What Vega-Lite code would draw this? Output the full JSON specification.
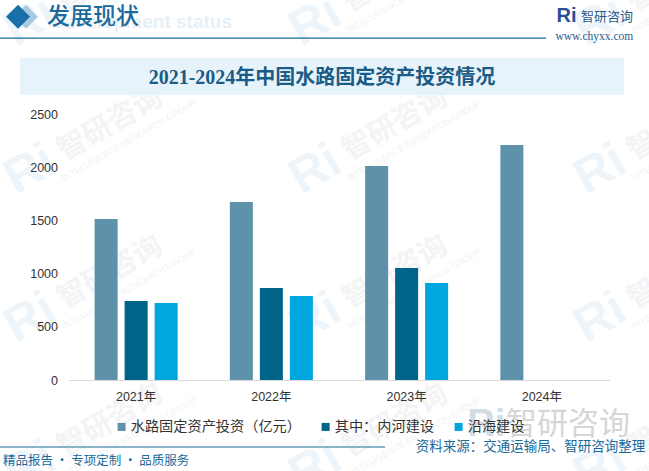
{
  "$schema": "https://vega.github.io/schema/vega-lite/v6.json",
  "width": 541,
  "height": 265.5,
  "autosize": "none",
  "padding": {"left": 68.5, "top": 114.5, "right": 39.5, "bottom": 91},
  "background": "#ffffff",
  "config": {"view": {"stroke": null}},
  "layer": [
    {
      "data": {
        "values": [
          {"col": "A", "row": "1"}, {"col": "B", "row": "1"}, {"col": "C", "row": "1"},
          {"col": "A", "row": "2"}, {"col": "B", "row": "2"}, {"col": "C", "row": "2"},
          {"col": "A", "row": "3"}, {"col": "B", "row": "3"}, {"col": "C", "row": "3"},
          {"col": "A", "row": "4"}, {"col": "B", "row": "4"}, {"col": "C", "row": "4"}
        ]
      },
      "encoding": {
        "x": {"field": "col", "type": "nominal", "axis": null, "scale": {"type": "point", "padding": 0, "domain": ["A", "B", "C"], "range": [41.5, 611.5]}},
        "y": {"field": "row", "type": "nominal", "axis": null, "scale": {"type": "point", "padding": 0, "domain": ["1", "2", "3", "4"], "range": [-139, 306]}}
      },
      "layer": [
        {"mark": {"type": "text", "text": "智研咨询", "font": "Noto Sans CJK SC", "fontSize": 29, "fontWeight": "bold", "angle": 330, "color": "#f3f4f6"}},
        {"mark": {"type": "text", "text": "INTELLIGENCE RESEARCH GROUP", "font": "Liberation Sans", "fontSize": 9, "angle": 330, "dy": 24, "dx": 8, "color": "#f1f3f5"}},
        {"mark": {"type": "text", "text": "Ri", "font": "Liberation Sans", "fontSize": 50, "fontWeight": "bold", "angle": 330, "dx": -92, "color": "#eef5fa"}}
      ]
    },
    {
      "data": {"values": [{}]},
      "layer": [
        {
          "mark": {"type": "rect", "color": "#e6f3fb"},
          "encoding": {
            "x": {"datum": -0.0896, "type": "quantitative", "axis": null, "scale": {"domain": [0, 1], "nice": false, "zero": false}},
            "x2": {"datum": 1.0268},
            "y": {"datum": 3032, "type": "quantitative", "axis": null, "scale": {"domain": [0, 2500], "nice": false}},
            "y2": {"datum": 2684}
          }
        },
        {
          "mark": {"type": "text", "text": "2021-2024年中国水路固定资产投资情况", "font": "Liberation Serif, Noto Sans CJK SC", "fontSize": 20, "fontWeight": "bold", "color": "#1b5c86", "align": "center", "baseline": "middle"},
          "encoding": {
            "x": {"datum": 0.4686, "type": "quantitative", "axis": null},
            "y": {"datum": 2843, "type": "quantitative", "axis": null}
          }
        },
        {
          "mark": {"type": "rule", "color": "#1a6a9a", "strokeWidth": 1.2},
          "encoding": {
            "x": {"datum": -0.1266, "type": "quantitative", "axis": null},
            "x2": {"datum": 0.8826},
            "y": {"datum": 3220, "type": "quantitative", "axis": null}
          }
        },
        {
          "mark": {"type": "rule", "color": "#1a6a9a", "strokeWidth": 1.2},
          "encoding": {
            "x": {"datum": -0.1266, "type": "quantitative", "axis": null},
            "x2": {"datum": 0.585},
            "y": {"datum": -631, "type": "quantitative", "axis": null}
          }
        },
        {
          "mark": {"type": "text", "text": "Development status", "font": "Liberation Sans", "fontSize": 19, "fontWeight": "bold", "color": "#e6f0f6", "align": "right", "baseline": "middle"},
          "encoding": {
            "x": {"datum": 0.3022, "type": "quantitative", "axis": null},
            "y": {"datum": 3375, "type": "quantitative", "axis": null}
          }
        },
        {
          "mark": {"type": "point", "shape": "diamond", "filled": true, "opacity": 1, "size": 576, "color": "#a9cbe0"},
          "encoding": {
            "x": {"datum": -0.0785, "type": "quantitative", "axis": null},
            "y": {"datum": 3420, "type": "quantitative", "axis": null}
          }
        },
        {
          "mark": {"type": "point", "shape": "diamond", "filled": true, "opacity": 1, "size": 576, "color": "#1a6fa8"},
          "encoding": {
            "x": {"datum": -0.0933, "type": "quantitative", "axis": null},
            "y": {"datum": 3420, "type": "quantitative", "axis": null}
          }
        },
        {
          "mark": {"type": "text", "text": "发展现状", "font": "Noto Sans CJK SC", "fontSize": 23, "fontWeight": "500", "color": "#1a6a9e", "align": "left", "baseline": "middle"},
          "encoding": {
            "x": {"datum": -0.0398, "type": "quantitative", "axis": null},
            "y": {"datum": 3420, "type": "quantitative", "axis": null}
          }
        },
        {
          "mark": {"type": "text", "text": "Ri", "font": "Liberation Sans", "fontSize": 20, "fontWeight": "bold", "color": "#2a4f96", "align": "left", "baseline": "middle"},
          "encoding": {
            "x": {"datum": 0.9022, "type": "quantitative", "axis": null},
            "y": {"datum": 3430, "type": "quantitative", "axis": null}
          }
        },
        {
          "mark": {"type": "text", "text": "智研咨询", "font": "Noto Sans CJK SC", "fontSize": 13, "color": "#2a5a8a", "align": "left", "baseline": "middle"},
          "encoding": {
            "x": {"datum": 0.9473, "type": "quantitative", "axis": null},
            "y": {"datum": 3420, "type": "quantitative", "axis": null}
          }
        },
        {
          "mark": {"type": "text", "text": "www.chyxx.com", "font": "Liberation Serif", "fontSize": 11.5, "color": "#2a5a8a", "align": "left", "baseline": "middle"},
          "encoding": {
            "x": {"datum": 0.9, "type": "quantitative", "axis": null},
            "y": {"datum": 3230, "type": "quantitative", "axis": null}
          }
        },
        {
          "mark": {"type": "text", "text": "Ri", "font": "Liberation Sans", "fontSize": 38, "fontWeight": "bold", "color": "#d3dde6", "align": "left", "baseline": "middle"},
          "encoding": {
            "x": {"datum": 0.737, "type": "quantitative", "axis": null},
            "y": {"datum": -420, "type": "quantitative", "axis": null}
          }
        },
        {
          "mark": {"type": "text", "text": "智研咨询", "font": "Noto Sans CJK SC", "fontSize": 31, "color": "#d6d6d6", "align": "left", "baseline": "middle"},
          "encoding": {
            "x": {"datum": 0.8085, "type": "quantitative", "axis": null},
            "y": {"datum": -420, "type": "quantitative", "axis": null}
          }
        },
        {
          "mark": {"type": "text", "text": "资料来源：交通运输局、智研咨询整理", "font": "Noto Sans CJK SC", "fontSize": 13.5, "color": "#1a6a9a", "align": "right", "baseline": "middle"},
          "encoding": {
            "x": {"datum": 1.066, "type": "quantitative", "axis": null},
            "y": {"datum": -631, "type": "quantitative", "axis": null}
          }
        },
        {
          "mark": {"type": "text", "text": "精品报告 · 专项定制 · 品质服务", "font": "Noto Sans CJK SC", "fontSize": 12.5, "color": "#1a6a9a", "align": "left", "baseline": "middle"},
          "encoding": {
            "x": {"datum": -0.121, "type": "quantitative", "axis": null},
            "y": {"datum": -763, "type": "quantitative", "axis": null}
          }
        }
      ]
    },
    {
      "data": {
        "values": [
          {"year": "2021年", "series": "水路固定资产投资（亿元）", "value": 1516},
          {"year": "2021年", "series": "其中：内河建设", "value": 744},
          {"year": "2021年", "series": "沿海建设", "value": 725},
          {"year": "2022年", "series": "水路固定资产投资（亿元）", "value": 1676},
          {"year": "2022年", "series": "其中：内河建设", "value": 866},
          {"year": "2022年", "series": "沿海建设", "value": 791},
          {"year": "2023年", "series": "水路固定资产投资（亿元）", "value": 2015},
          {"year": "2023年", "series": "其中：内河建设", "value": 1055},
          {"year": "2023年", "series": "沿海建设", "value": 913},
          {"year": "2024年", "series": "水路固定资产投资（亿元）", "value": 2213}
        ]
      },
      "mark": {"type": "bar"},
      "encoding": {
        "x": {
          "field": "year",
          "type": "nominal",
          "title": null,
          "scale": {"paddingInner": 0, "paddingOuter": 0},
          "axis": {"labelAngle": 0, "labelFont": "Liberation Sans, Noto Sans CJK SC", "labelFontSize": 12.5, "labelColor": "#333333", "labelPadding": 10, "ticks": false, "domainColor": "#d9d9d9", "zindex": 1}
        },
        "xOffset": {
          "field": "series",
          "scale": {"domain": ["水路固定资产投资（亿元）", "其中：内河建设", "沿海建设"], "paddingInner": 0.233, "paddingOuter": 0.87}
        },
        "y": {
          "field": "value",
          "type": "quantitative",
          "title": null,
          "scale": {"domain": [0, 2500], "nice": false},
          "axis": {"values": [0, 500, 1000, 1500, 2000, 2500], "format": "d", "labelFont": "Liberation Sans", "labelFontSize": 12.5, "labelColor": "#333333", "labelPadding": 11, "ticks": false, "domain": false, "gridColor": "#d9d9d9", "zindex": 1}
        },
        "color": {
          "field": "series",
          "type": "nominal",
          "title": null,
          "scale": {"domain": ["水路固定资产投资（亿元）", "其中：内河建设", "沿海建设"], "range": ["#5e92aa", "#006388", "#00a6de"]},
          "legend": {"orient": "none", "legendX": 46, "legendY": 305, "direction": "horizontal", "symbolType": "square", "symbolSize": 64, "symbolOpacity": 1, "labelFont": "Noto Sans CJK SC", "labelFontSize": 14.2, "labelColor": "#333333", "labelOffset": 2, "labelLimit": 300, "columnPadding": 17}
        }
      }
    }
  ],
  "resolve": {"scale": {"x": "independent", "y": "independent"}}
}
